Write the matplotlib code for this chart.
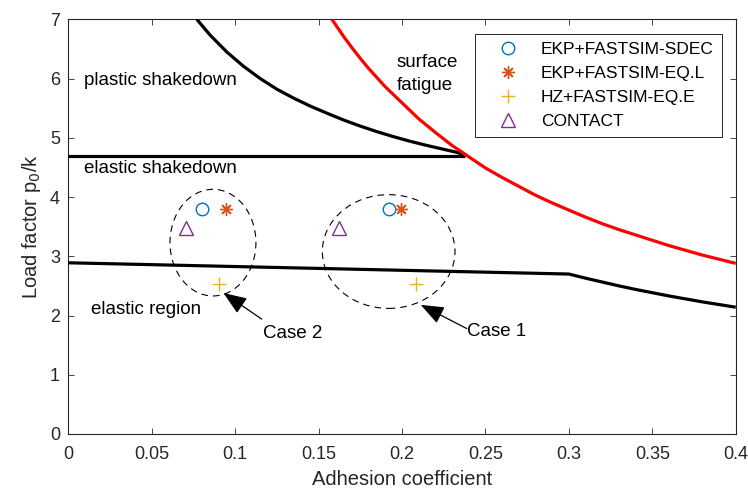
import matplotlib
matplotlib.use('Agg')
import matplotlib.pyplot as plt
from matplotlib.patches import Ellipse

plt.rcParams['font.family'] = ['Liberation Sans', 'DejaVu Sans']

# ---------------- data ----------------
plastic_x = [0.077, 0.085, 0.095, 0.105, 0.115, 0.125, 0.135, 0.145, 0.155, 0.165,
             0.175, 0.185, 0.195, 0.205, 0.215, 0.225, 0.232, 0.238]
plastic_y = [7.00, 6.733, 6.448, 6.207, 6.00, 5.82, 5.67, 5.535, 5.415, 5.30,
             5.197, 5.103, 5.018, 4.94, 4.87, 4.805, 4.76, 4.71]

elastic_sd_x = [0.0, 0.238]
elastic_sd_y = [4.70, 4.70]

fatigue_x = [0.158, 0.165, 0.17, 0.175, 0.18, 0.19, 0.20, 0.21, 0.22, 0.23, 0.24, 0.25,
             0.26, 0.27, 0.28, 0.29, 0.30, 0.31, 0.32, 0.33, 0.34, 0.35, 0.36, 0.37,
             0.38, 0.39, 0.40]
fatigue_y = [7.00, 6.71, 6.52, 6.34, 6.17, 5.86, 5.59, 5.32, 5.09, 4.87, 4.68, 4.49,
             4.33, 4.18, 4.03, 3.90, 3.78, 3.66, 3.55, 3.45, 3.36, 3.27, 3.18, 3.10,
             3.02, 2.95, 2.88]

elastic_lim_x = [0.0, 0.30, 0.31, 0.32, 0.33, 0.34, 0.35, 0.36, 0.37, 0.38, 0.39, 0.40]
elastic_lim_y = [2.89, 2.70, 2.63, 2.565, 2.50, 2.44, 2.385, 2.33, 2.28, 2.23, 2.185, 2.14]

series_names = ['EKP+FASTSIM-SDEC', 'EKP+FASTSIM-EQ.L', 'HZ+FASTSIM-EQ.E', 'CONTACT']
# per series: [case 2, case 1]
series_x = [[0.080, 0.1924], [0.0943, 0.1994], [0.0905, 0.2084], [0.0704, 0.1624]]
series_y = [[3.79, 3.79], [3.79, 3.79], [2.54, 2.54], [3.47, 3.47]]

# dashed ellipses: case 2, case 1
ell_cx = [0.0867, 0.192]
ell_cy = [3.23, 3.08]
ell_w = [0.0515, 0.0795]
ell_h = [1.80, 1.92]

case_labels = ['Case 2', 'Case 1']
arrow_head_x = [0.0930, 0.2112]
arrow_head_y = [2.38, 2.18]
arrow_tail_x = [0.1159, 0.2388]
arrow_tail_y = [1.94, 1.78]
case_text_x = [0.1167, 0.2388]
case_text_y = [1.70, 1.73]

region_labels = ['plastic shakedown', 'elastic shakedown', 'elastic region', 'surface\nfatigue']
region_x = [0.0093, 0.0093, 0.0139, 0.197]
region_y = [5.97, 4.48, 2.10, 6.07]

x_ticks = [0, 0.05, 0.1, 0.15, 0.2, 0.25, 0.3, 0.35, 0.4]
x_tick_labels = ['0', '0.05', '0.1', '0.15', '0.2', '0.25', '0.3', '0.35', '0.4']
y_ticks = [0, 1, 2, 3, 4, 5, 6, 7]

# ---------------- style ----------------
axis_col = '#262626'
colors = ['#0072BD', '#D95319', '#EDB120', '#7E2F8E']
markers = ['o', (8, 2, 0), '+', '^']
msizes = [9, 9, 10, 10]

fig = plt.figure(figsize=(7.48, 4.91), dpi=100)
ax = fig.add_axes([0.0913, 0.1161, 0.8923, 0.8446])

ax.plot(plastic_x, plastic_y, color='k', lw=2.3, solid_capstyle='butt', zorder=3)
ax.plot(elastic_sd_x, elastic_sd_y, color='k', lw=2.3, solid_capstyle='butt', zorder=3)
ax.plot(elastic_lim_x, elastic_lim_y, color='k', lw=2.3, solid_capstyle='butt', zorder=3)
ax.plot(fatigue_x, fatigue_y, color='#FF0000', lw=2.3, solid_capstyle='butt', zorder=4)

for cx, cy, w, h in zip(ell_cx, ell_cy, ell_w, ell_h):
    e = Ellipse((cx, cy), w, h, fill=False, edgecolor='k', lw=0.8,
                linestyle=(0, (6, 4.5)), zorder=2)
    ax.add_patch(e)

handles = []
for name, xs, ys, c, m, ms in zip(series_names, series_x, series_y, colors, markers, msizes):
    h, = ax.plot(xs, ys, linestyle='none', marker=m, markersize=ms,
                 markerfacecolor='none', markeredgecolor=c, markeredgewidth=1.0,
                 label=name, zorder=5)
    handles.append(h)

for hx, hy, tx, ty in zip(arrow_head_x, arrow_head_y, arrow_tail_x, arrow_tail_y):
    ax.annotate('', xy=(hx, hy), xytext=(tx, ty),
                arrowprops=dict(arrowstyle='-|>,head_length=0.9,head_width=0.35',
                                color='k', lw=0.9, mutation_scale=16,
                                shrinkA=0, shrinkB=0))
for lab, tx, ty in zip(case_labels, case_text_x, case_text_y):
    ax.text(tx, ty, lab, fontsize=13.5, ha='left', va='center', color='k')

for lab, x, y in zip(region_labels, region_x, region_y):
    ax.text(x, y, lab, fontsize=13.5, ha='left', va='center', color='k',
            linespacing=1.45)

ax.set_xlim(0, 0.4)
ax.set_ylim(0, 7)
ax.set_xticks(x_ticks)
ax.set_xticklabels(x_tick_labels)
ax.set_yticks(y_ticks)
ax.tick_params(direction='in', length=4, width=0.6, colors=axis_col,
               labelsize=13, top=True, right=True)
ax.tick_params(axis='x', pad=9)
ax.tick_params(axis='y', pad=6)
for s in ax.spines.values():
    s.set_color(axis_col)
    s.set_linewidth(0.8)

ax.set_xlabel('Adhesion coefficient', fontsize=14.5, color=axis_col, labelpad=5)
ax.set_ylabel('Load factor p$_0$/k', fontsize=14.5, color=axis_col, labelpad=5)

leg = ax.legend(handles=handles, loc='upper right', bbox_to_anchor=(0.979, 0.964),
                borderaxespad=0, fontsize=12.5, frameon=True, fancybox=False,
                edgecolor=axis_col, framealpha=1, handlelength=2.9,
                handletextpad=0.45, borderpad=0.45, labelspacing=0.5)
leg.get_frame().set_linewidth(0.7)
leg.set_zorder(10)

fig.savefig('out.png', dpi=100)
